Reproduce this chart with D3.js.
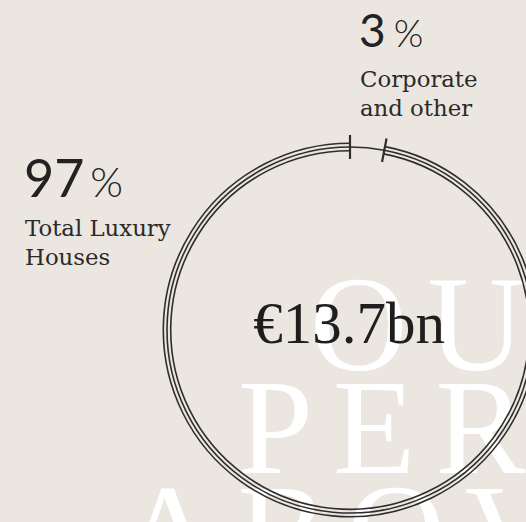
<!DOCTYPE html>
<html><head><meta charset="utf-8">
<script src="https://cdn.jsdelivr.net/npm/d3@7"></script>
<style>html,body{margin:0;padding:0;background:#ebe6e0;overflow:hidden}</style>
</head><body><svg id="chart" width="526" height="522"></svg>
<script>
// ---- data ----
const categories = ["Corporate and other", "Total Luxury Houses"];
const shares = [3, 97];
const shareLabels = ["3", "97"];
const labelLines = [["Corporate", "and other"], ["Total Luxury", "Houses"]];
const totalLabel = "€13.7bn";
const watermarkLines = ["OUT", "PER", "ABOVE"];

// ---- layout ----
const W = 526, H = 522;
const cx = 350, cy = 330, R = 183;
const svg = d3.select("#chart");
svg.append("rect").attr("width", W).attr("height", H).attr("fill", "#ebe6e0");

// watermark
const wm = svg.append("g").attr("fill", "#ffffff")
  .attr("font-family", "'Liberation Serif', serif").attr("font-size", 135)
  .attr("letter-spacing", 20);
const wmX = [310, 238, 120], wmY = [370, 473, 578];
watermarkLines.forEach((t, i) => {
  wm.append("text").attr("x", wmX[i]).attr("y", wmY[i]).text(t);
});

// pie
const pie = d3.pie().sort(null).value(d => d).startAngle(0).endAngle(2 * Math.PI);
const arcs = pie(shares);
const g = svg.append("g").attr("transform", `translate(${cx},${cy})`);
const ringColor = "#2e2e2e";

function arcPath(r, a0, a1) {
  const p = d3.path();
  p.arc(0, 0, r, a0 - Math.PI / 2, a1 - Math.PI / 2);
  return p.toString();
}
// Corporate: single line
g.append("path").attr("d", arcPath(R, arcs[0].startAngle, arcs[0].endAngle))
  .attr("fill", "none").attr("stroke", ringColor).attr("stroke-width", 1.6);
// Luxury: triple line
[-3.7, 0, 3.7].forEach(o => {
  g.append("path").attr("d", arcPath(R + o, arcs[1].startAngle, arcs[1].endAngle))
    .attr("fill", "none").attr("stroke", ringColor).attr("stroke-width", 1.6);
});
// ticks at segment boundaries
[arcs[0].startAngle, arcs[0].endAngle].forEach(a => {
  const s = Math.sin(a), c = -Math.cos(a);
  g.append("line")
    .attr("x1", (R - 12) * s).attr("y1", (R - 12) * c)
    .attr("x2", (R + 12) * s).attr("y2", (R + 12) * c)
    .attr("stroke", ringColor).attr("stroke-width", 2.2);
});

// center total
svg.append("text").attr("x", cx - 1).attr("y", 343).attr("text-anchor", "middle")
  .attr("font-family", "'Liberation Serif', serif").attr("font-size", 59)
  .attr("fill", "#1e1e1e").text(totalLabel);

// labels
const labelPos = [{x: 359, y: 47, big: 46, pct: 38, gap: 8, ly: 87},
                  {x: 24, y: 197, big: 52, pct: 42, gap: 6, ly: 236}];
arcs.forEach((a, i) => {
  const p = labelPos[i];
  const t = svg.append("text").attr("x", p.x).attr("y", p.y)
    .attr("font-family", "Lato, sans-serif").attr("fill", "#222");
  t.append("tspan").attr("font-size", p.big).text(shareLabels[i]);
  t.append("tspan").attr("font-size", p.pct).attr("font-weight", 300).attr("dx", p.gap).text("%");
  labelLines[i].forEach((ln, j) => {
    svg.append("text").attr("x", p.x + 1).attr("y", p.ly + j * 29)
      .attr("font-family", "'DejaVu Serif', serif").attr("font-size", 22.8)
      .attr("fill", "#2a2a2a").text(ln);
  });
});
</script></body></html>
